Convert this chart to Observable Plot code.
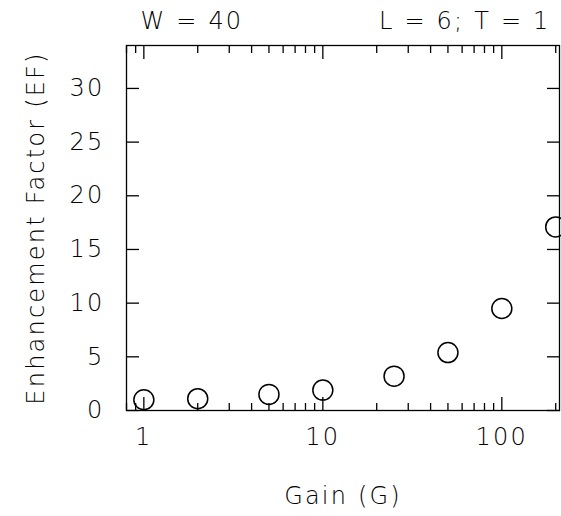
<!DOCTYPE html>
<html><head><meta charset="utf-8">
<script src="https://cdn.jsdelivr.net/npm/d3@7"></script>
<script src="https://cdn.jsdelivr.net/npm/@observablehq/plot@0.6"></script>
<style>body{margin:0;background:#fff}</style>
</head><body><div id="chart"></div>
<script>
const gain = [1, 2, 5, 10, 25, 50, 100, 200];
const ef = [1.0, 1.1, 1.5, 1.9, 3.2, 5.4, 9.5, 17.1];
const majorTicks = [1, 10, 100];
const minorTicks = [0.8, 0.9, 2, 3, 4, 5, 6, 7, 8, 9, 20, 30, 40, 50, 60, 70, 80, 90, 200];
const yTicks = [0, 5, 10, 15, 20, 25, 30];
const titleLeft = "W = 40";
const titleRight = "L = 6; T = 1";
const xLabel = "Gain (G)";
const yLabel = "Enhancement Factor (EF)";

const data = gain.map((g, i) => ({g, ef: ef[i]}));
const fs = 24;

const chart = Plot.plot({
  width: 561,
  height: 516,
  marginLeft: 126,
  marginRight: 2,
  marginTop: 45,
  marginBottom: 106,
  style: {fontFamily: "DejaVu Sans", fontSize: "24px", fontWeight: 200, color: "black", background: "white", letterSpacing: "2.2px"},
  x: {type: "log", domain: [0.8, 210]},
  y: {domain: [0, 34]},
  marks: [
    Plot.frame({stroke: "black", strokeWidth: 1.3}),
    Plot.axisX(majorTicks, {anchor: "bottom", tickSize: -13, fill: "none", label: null, strokeWidth: 1.3}),
    Plot.axisX(minorTicks, {anchor: "bottom", tickSize: -7, fill: "none", label: null, strokeWidth: 1.3}),
    Plot.axisX(majorTicks, {anchor: "top", tickSize: -13, fill: "none", label: null, strokeWidth: 1.3}),
    Plot.axisX(minorTicks, {anchor: "top", tickSize: -7, fill: "none", label: null, strokeWidth: 1.3}),
    Plot.axisX(majorTicks, {anchor: "bottom", tickSize: 0, tickPadding: 17, tickFormat: d => String(d), label: null, fontSize: fs}),
    Plot.axisY(yTicks, {anchor: "left", tickSize: -13, fill: "none", label: null, strokeWidth: 1.3}),
    Plot.axisY(yTicks, {anchor: "right", tickSize: -13, fill: "none", label: null, strokeWidth: 1.3}),
    Plot.axisY(yTicks, {anchor: "left", tickSize: 0, tickPadding: 22, tickFormat: d => String(d), label: null, fontSize: fs}),
    Plot.dot(data, {x: "g", y: "ef", r: 10, stroke: "black", strokeWidth: 1.5, fill: "none"}),
    Plot.text([titleLeft], {frameAnchor: "top-left", text: d => d, dx: 14, dy: -17, lineAnchor: "bottom", textAnchor: "start", fontSize: fs}),
    Plot.text([titleRight], {frameAnchor: "top-right", text: d => d, dx: -9, dy: -17, lineAnchor: "bottom", textAnchor: "end", fontSize: fs}),
    Plot.text([yLabel], {frameAnchor: "left", text: d => d, rotate: -90, dx: -83, lineAnchor: "bottom", textAnchor: "middle", fontSize: fs}),
    Plot.text([xLabel], {frameAnchor: "bottom", text: d => d, dy: 93, lineAnchor: "bottom", textAnchor: "middle", fontSize: fs})
  ]
});
document.getElementById("chart").appendChild(chart);
</script>
</body></html>
